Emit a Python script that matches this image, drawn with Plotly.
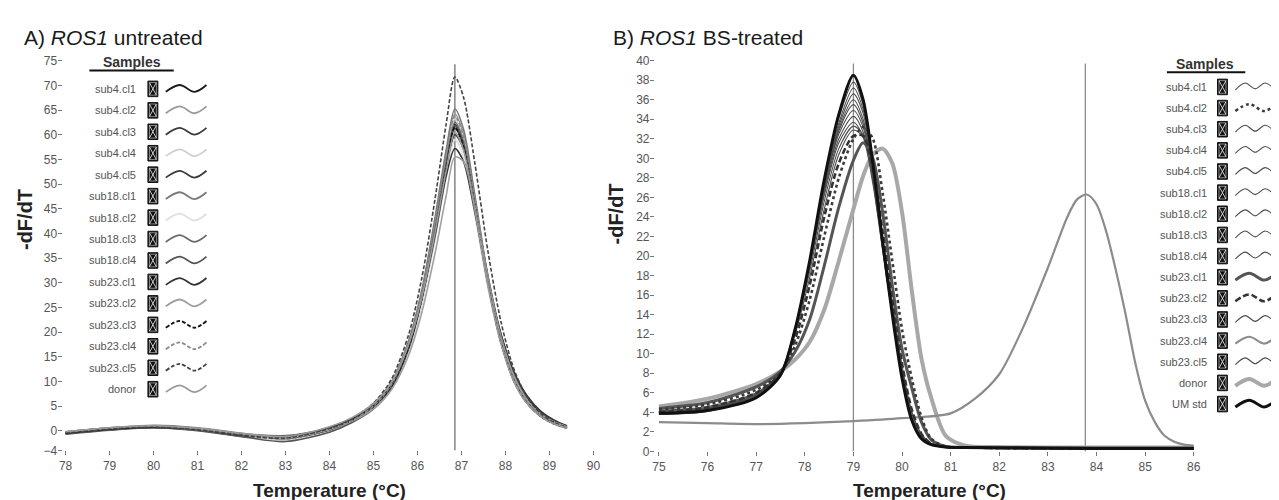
import plotly.graph_objs as go

# ---------------- A) ROS1 untreated ----------------
temp_untreated = [78, 79, 80, 81, 82, 83, 84, 84.5, 85, 85.4, 85.8, 86.1, 86.4, 86.65,
                  86.85, 87.05, 87.3, 87.6, 87.9, 88.2, 88.5, 88.8, 89.1, 89.4]

u_sub4_cl1 = [-0.4, 0.4, 0.9, 0.4, -0.7, -1.2, 0.5, 2.2, 5.0, 9.0, 17.0, 27.0, 41.0, 54.0,
              62.0, 58.0, 46.0, 30.0, 18.0, 10.0, 5.6, 3.0, 1.5, 0.6]
u_sub4_cl2 = [-0.2, 0.6, 1.0, 0.5, -0.6, -1.5, 0.6, 2.3, 5.2, 9.4, 17.8, 28.0, 42.5, 56.0,
              64.2, 60.0, 47.5, 31.0, 18.5, 10.2, 5.7, 3.0, 1.5, 0.6]
u_sub4_cl3 = [-0.6, 0.2, 0.7, 0.2, -0.9, -1.1, 0.3, 1.9, 4.6, 8.6, 16.5, 26.5, 40.0, 53.0,
              61.3, 57.8, 46.5, 31.0, 19.0, 11.0, 6.3, 3.5, 1.8, 0.8]
u_sub4_cl4 = [-0.3, 0.5, 0.8, 0.3, -1.0, -1.8, 0.2, 2.0, 5.0, 9.2, 17.5, 27.5, 41.8, 55.0,
              63.2, 59.0, 46.5, 30.5, 18.2, 10.0, 5.5, 2.9, 1.4, 0.5]
u_sub4_cl5 = [-0.5, 0.3, 0.6, 0.1, -1.1, -1.6, 0.0, 1.7, 4.5, 8.5, 16.3, 26.0, 39.5, 52.0,
              60.0, 57.0, 46.0, 31.5, 19.5, 11.5, 6.6, 3.7, 2.0, 0.9]
u_sub18_cl1 = [-0.3, 0.5, 1.1, 0.6, -0.5, -1.4, 0.7, 2.5, 5.5, 9.8, 18.3, 28.6, 43.2, 56.8,
               65.2, 61.0, 48.0, 31.3, 18.6, 10.2, 5.6, 2.9, 1.4, 0.5]
u_sub18_cl2 = [-0.4, 0.4, 0.8, 0.2, -0.8, -2.0, -0.2, 1.6, 4.3, 8.3, 16.0, 25.6, 38.8, 51.2,
               59.0, 55.5, 44.0, 29.0, 17.5, 9.8, 5.4, 2.9, 1.4, 0.5]
u_sub18_cl3 = [-0.2, 0.6, 0.9, 0.4, -0.6, -1.0, 0.6, 2.3, 5.1, 9.2, 17.3, 27.3, 41.3, 54.5,
               62.5, 58.5, 46.3, 30.3, 18.2, 10.1, 5.6, 3.0, 1.5, 0.6]
u_sub18_cl4 = [-0.7, 0.1, 0.6, 0.0, -1.2, -2.2, -0.3, 1.6, 4.4, 8.5, 16.6, 26.7, 40.6, 53.6,
               61.8, 58.0, 46.0, 30.2, 18.0, 10.0, 5.5, 3.0, 1.5, 0.6]
u_sub23_cl1 = [-0.5, 0.3, 0.7, 0.3, -0.8, -1.3, 0.6, 2.3, 5.2, 9.3, 17.2, 26.8, 39.5, 51.5,
               57.2, 54.5, 44.5, 30.5, 19.5, 11.8, 7.0, 4.0, 2.2, 1.0]
u_sub23_cl2 = [-0.3, 0.5, 0.9, 0.4, -0.7, -1.5, 0.3, 1.9, 4.5, 8.2, 15.3, 24.0, 36.0, 47.5,
               55.5, 54.5, 45.5, 31.0, 19.0, 11.0, 6.2, 3.4, 1.8, 0.8]
u_sub23_cl3 = [-0.4, 0.4, 0.8, 0.3, -0.9, -1.4, 0.4, 2.1, 4.9, 8.9, 16.9, 26.8, 40.6, 53.5,
               61.5, 57.5, 45.5, 29.8, 17.8, 9.9, 5.5, 2.9, 1.4, 0.5]
u_sub23_cl4 = [-0.3, 0.5, 0.9, 0.4, -0.8, -1.7, 0.2, 2.0, 5.0, 9.2, 17.6, 27.8, 42.2, 55.6,
               63.8, 59.6, 47.2, 31.0, 18.5, 10.2, 5.7, 3.0, 1.5, 0.6]
u_sub23_cl5 = [-0.4, 0.4, 0.8, 0.3, -0.9, -1.5, 0.5, 2.4, 5.6, 10.3, 19.5, 31.0, 47.0, 62.0,
               71.7, 67.5, 54.5, 36.5, 22.0, 12.3, 6.7, 3.5, 1.7, 0.7]
u_donor = [-0.2, 0.6, 1.0, 0.5, -0.5, -1.2, 0.8, 2.6, 5.5, 9.6, 17.5, 27.0, 40.2, 52.6,
           60.5, 56.8, 45.0, 29.5, 17.6, 9.8, 5.4, 2.9, 1.4, 0.5]

names_untreated = ['sub4.cl1', 'sub4.cl2', 'sub4.cl3', 'sub4.cl4', 'sub4.cl5',
                   'sub18.cl1', 'sub18.cl2', 'sub18.cl3', 'sub18.cl4',
                   'sub23.cl1', 'sub23.cl2', 'sub23.cl3', 'sub23.cl4', 'sub23.cl5', 'donor']
curves_untreated = [u_sub4_cl1, u_sub4_cl2, u_sub4_cl3, u_sub4_cl4, u_sub4_cl5,
                    u_sub18_cl1, u_sub18_cl2, u_sub18_cl3, u_sub18_cl4,
                    u_sub23_cl1, u_sub23_cl2, u_sub23_cl3, u_sub23_cl4, u_sub23_cl5, u_donor]
tm_untreated = 86.85

# ---------------- B) ROS1 BS-treated ----------------
temp_bs = [75, 76, 77, 77.5, 77.8, 78.1, 78.4, 78.7, 79.0, 79.2, 79.4, 79.6, 79.8, 80.0,
           80.2, 80.4, 80.6, 80.9, 81.3, 82, 84, 86]

b_sub4_cl1 = [4.1, 4.4, 5.8, 8.0, 12.6, 19.4, 27.3, 33.6, 37.2, 35.0, 29.0, 21.5, 14.2, 7.8,
              3.4, 1.4, 0.7, 0.45, 0.4, 0.35, 0.3, 0.3]
b_sub4_cl2 = [4.3, 4.8, 6.3, 8.0, 10.8, 15.5, 22.0, 28.0, 32.0, 33.2, 32.0, 26.5, 19.5, 12.5,
              7.5, 3.5, 1.3, 0.5, 0.4, 0.35, 0.3, 0.3]
b_sub4_cl3 = [3.8, 4.2, 5.6, 7.8, 12.4, 19.2, 27.0, 33.0, 36.0, 34.0, 28.4, 21.0, 14.0, 7.7,
              3.4, 1.4, 0.7, 0.45, 0.4, 0.35, 0.3, 0.3]
b_sub4_cl4 = [4.2, 4.5, 5.9, 8.1, 12.7, 19.3, 26.8, 32.5, 34.9, 33.2, 28.0, 21.0, 14.1, 7.9,
              3.5, 1.5, 0.75, 0.5, 0.4, 0.35, 0.3, 0.3]
b_sub4_cl5 = [3.9, 4.3, 5.7, 7.9, 12.4, 18.9, 26.2, 31.6, 33.7, 32.2, 27.4, 20.6, 13.9, 7.8,
              3.5, 1.5, 0.75, 0.5, 0.4, 0.35, 0.3, 0.3]
b_sub18_cl1 = [4.0, 4.4, 5.8, 8.0, 12.2, 18.4, 25.6, 31.0, 33.3, 32.4, 28.0, 21.5, 14.8, 8.5,
               3.9, 1.7, 0.8, 0.5, 0.4, 0.35, 0.3, 0.3]
b_sub18_cl2 = [3.8, 4.1, 5.5, 7.7, 12.3, 19.0, 26.8, 32.8, 35.5, 33.6, 28.2, 21.0, 14.0, 7.6,
               3.3, 1.4, 0.7, 0.45, 0.4, 0.35, 0.3, 0.3]
b_sub18_cl3 = [4.0, 4.3, 5.7, 7.9, 12.5, 19.3, 27.2, 33.3, 36.6, 34.6, 28.8, 21.3, 14.1, 7.7,
               3.3, 1.4, 0.7, 0.45, 0.4, 0.35, 0.3, 0.3]
b_sub18_cl4 = [4.1, 4.4, 5.8, 8.0, 12.5, 19.0, 26.5, 32.0, 34.3, 32.7, 27.7, 20.8, 14.0, 7.8,
               3.5, 1.5, 0.75, 0.5, 0.4, 0.35, 0.3, 0.3]
b_sub23_cl1 = [4.4, 5.0, 6.6, 8.2, 10.2, 13.5, 19.0, 25.0, 29.8, 31.6, 30.0, 24.5, 17.0, 10.5,
               6.5, 3.0, 1.2, 0.5, 0.4, 0.4, 0.35, 0.35]
b_sub23_cl2 = [4.0, 4.5, 6.0, 8.0, 11.5, 17.0, 24.0, 29.5, 32.3, 32.3, 29.0, 22.5, 15.5, 9.0,
               4.3, 1.8, 0.8, 0.45, 0.4, 0.35, 0.3, 0.3]
b_sub23_cl3 = [4.2, 4.6, 6.0, 8.1, 12.0, 17.8, 24.8, 30.4, 32.9, 32.2, 28.2, 22.0, 15.3, 8.8,
               4.1, 1.8, 0.85, 0.5, 0.4, 0.35, 0.3, 0.3]
b_sub23_cl5 = [3.9, 4.2, 5.6, 7.9, 12.6, 19.5, 27.6, 34.1, 37.8, 35.5, 29.3, 21.5, 14.1, 7.6,
               3.3, 1.3, 0.7, 0.45, 0.4, 0.35, 0.3, 0.3]
b_donor = [4.6, 5.4, 6.9, 8.2, 9.4, 11.2, 14.5, 19.5, 24.8, 28.2, 30.4, 31.0, 29.5, 24.5,
           16.5, 9.5, 5.5, 1.6, 0.6, 0.45, 0.4, 0.4]
b_um_std = [3.9, 4.2, 5.5, 7.8, 12.5, 19.5, 27.8, 34.5, 38.5, 36.0, 29.5, 21.5, 14.0, 7.5,
            3.2, 1.3, 0.7, 0.45, 0.4, 0.35, 0.3, 0.3]

# methylated clone, melts at the higher temperature
temp_bs_high = [75, 76, 77, 78, 79, 80, 81, 81.5, 82, 82.5, 83, 83.4, 83.6, 83.8, 84.0,
                84.2, 84.4, 84.6, 84.8, 85.0, 85.2, 85.4, 85.6, 85.8, 86]
b_sub23_cl4 = [3.0, 2.9, 2.8, 2.9, 3.1, 3.4, 3.9, 5.4, 7.9, 12.8, 18.8, 24.0, 25.8, 26.3, 25.3,
               22.5, 18.5, 14.0, 9.0, 5.2, 3.0, 1.6, 1.0, 0.7, 0.6]

names_bs = ['sub4.cl1', 'sub4.cl2', 'sub4.cl3', 'sub4.cl4', 'sub4.cl5',
            'sub18.cl1', 'sub18.cl2', 'sub18.cl3', 'sub18.cl4',
            'sub23.cl1', 'sub23.cl2', 'sub23.cl3', 'sub23.cl4', 'sub23.cl5', 'donor', 'UM std']
curves_bs = [b_sub4_cl1, b_sub4_cl2, b_sub4_cl3, b_sub4_cl4, b_sub4_cl5,
             b_sub18_cl1, b_sub18_cl2, b_sub18_cl3, b_sub18_cl4,
             b_sub23_cl1, b_sub23_cl2, b_sub23_cl3, b_sub23_cl4, b_sub23_cl5, b_donor, b_um_std]
tm_bs = [79.0, 83.77]

# ---------------- styles (color, width, dash) ----------------
style_untreated = {
    'sub4.cl1': ('#1a1a1a', 1.6, 'solid'), 'sub4.cl2': ('#9a9a9a', 1.6, 'solid'),
    'sub4.cl3': ('#3a3a3a', 1.6, 'solid'), 'sub4.cl4': ('#cfcfcf', 1.6, 'solid'),
    'sub4.cl5': ('#3a3a3a', 1.6, 'solid'), 'sub18.cl1': ('#7a7a7a', 1.6, 'solid'),
    'sub18.cl2': ('#e0e0e0', 1.6, 'solid'), 'sub18.cl3': ('#6a6a6a', 1.6, 'solid'),
    'sub18.cl4': ('#555555', 1.6, 'solid'), 'sub23.cl1': ('#333333', 1.6, 'solid'),
    'sub23.cl2': ('#a0a0a0', 1.6, 'solid'), 'sub23.cl3': ('#111111', 1.6, '4px,2px'),
    'sub23.cl4': ('#8a8a8a', 1.6, '4px,2px'), 'sub23.cl5': ('#444444', 1.6, '4px,2px'),
    'donor': ('#9a9a9a', 1.6, 'solid'),
}
thin = ('#4d4d4d', 1.1, 'solid')
style_bs = {
    'sub4.cl1': thin, 'sub4.cl2': ('#3a3a3a', 2.6, 'dot'), 'sub4.cl3': thin,
    'sub4.cl4': thin, 'sub4.cl5': thin, 'sub18.cl1': thin, 'sub18.cl2': thin,
    'sub18.cl3': thin, 'sub18.cl4': thin, 'sub23.cl1': ('#555555', 3, 'solid'),
    'sub23.cl2': ('#333333', 2.6, '6px,3px'), 'sub23.cl3': thin,
    'sub23.cl4': ('#8c8c8c', 2.2, 'solid'), 'sub23.cl5': thin,
    'donor': ('#a8a8a8', 4, 'solid'), 'UM std': ('#111111', 3, 'solid'),
}
draw_order_bs = ['donor', 'sub23.cl4', 'sub4.cl1', 'sub4.cl3', 'sub4.cl4', 'sub4.cl5',
                 'sub18.cl1', 'sub18.cl2', 'sub18.cl3', 'sub18.cl4', 'sub23.cl3', 'sub23.cl5',
                 'sub23.cl1', 'sub4.cl2', 'sub23.cl2', 'UM std']

W, H = 1279, 500
FONT = 'Liberation Sans, Arial, sans-serif'

fig = go.Figure()

for name, ys in zip(names_untreated, curves_untreated):
    c, w, d = style_untreated[name]
    fig.add_trace(go.Scatter(x=temp_untreated, y=ys, mode='lines', xaxis='x', yaxis='y',
                             line=dict(color=c, width=w, dash=d, shape='spline', smoothing=0.8),
                             hoverinfo='skip', showlegend=False))

curve_of = dict(zip(names_bs, curves_bs))
for name in draw_order_bs:
    c, w, d = style_bs[name]
    xs = temp_bs_high if name == 'sub23.cl4' else temp_bs
    fig.add_trace(go.Scatter(x=xs, y=curve_of[name], mode='lines', xaxis='x2', yaxis='y2',
                             line=dict(color=c, width=w, dash=d, shape='spline', smoothing=0.8),
                             hoverinfo='skip', showlegend=False))

shapes = []
annotations = []

# Tm marker lines
shapes.append(dict(type='line', xref='x', yref='y', x0=tm_untreated, x1=tm_untreated,
                   y0=-4, y1=74.3, line=dict(color='#8c8c8c', width=1.6), layer='below'))
for tm in tm_bs:
    shapes.append(dict(type='line', xref='x2', yref='y2', x0=tm, x1=tm, y0=0, y1=39.7,
                       line=dict(color='#8c8c8c', width=1.3), layer='below'))


# legend drawn on a hidden page-sized axis (pixel units)
def legend(names, styles, row0, step, text_x, box_x, wave_x, head_x, head_y, line_x0, line_x1, thick_shape):
    annotations.append(dict(xref='x3', yref='y3', x=head_x, y=head_y, text='<b>Samples</b>',
                            showarrow=False, font=dict(size=14, color='#333333')))
    shapes.append(dict(type='line', xref='x3', yref='y3', x0=line_x0, x1=line_x1,
                       y0=head_y + 9, y1=head_y + 9, line=dict(color='#111111', width=2)))
    for i, name in enumerate(names):
        yc = row0 + i * step
        annotations.append(dict(xref='x3', yref='y3', x=text_x, y=yc, text=name, xanchor='right',
                                showarrow=False, font=dict(size=11, color='#555555')))
        shapes.append(dict(type='rect', xref='x3', yref='y3', x0=box_x - 5, x1=box_x + 5,
                           y0=yc - 8, y1=yc + 8, fillcolor='#111111', line=dict(color='#111111', width=1)))
        shapes.append(dict(type='rect', xref='x3', yref='y3', x0=box_x - 3.5, x1=box_x + 3.5,
                           y0=yc - 6.5, y1=yc + 6.5, line=dict(color='#bbbbbb', width=0.7)))
        shapes.append(dict(type='line', xref='x3', yref='y3', x0=box_x - 3.5, x1=box_x + 3.5,
                           y0=yc - 6.5, y1=yc + 6.5, line=dict(color='#dddddd', width=0.9)))
        shapes.append(dict(type='line', xref='x3', yref='y3', x0=box_x - 3.5, x1=box_x + 3.5,
                           y0=yc + 6.5, y1=yc - 6.5, line=dict(color='#dddddd', width=0.9)))
        c, w, d = styles[name]
        if thick_shape or w > 1.5:
            wx = [wave_x, wave_x + 14, wave_x + 29, wave_x + 41]
            wy = [yc + 3, yc - 4, yc + 3, yc - 4]
        else:
            wx = [wave_x, wave_x + 10, wave_x + 20, wave_x + 30, wave_x + 40]
            wy = [yc + 3, yc - 4, yc + 2, yc - 4, yc + 3]
        fig.add_trace(go.Scatter(x=wx, y=wy, mode='lines', xaxis='x3', yaxis='y3',
                                 line=dict(color=c, width=max(w, 1.8) if thick_shape else w,
                                           dash=d, shape='spline'),
                                 hoverinfo='skip', showlegend=False))


legend(names_untreated, style_untreated, 76, 22.07, 127, 142, 155, 121, 48, 78, 163, True)
legend(names_bs, style_bs, 74, 21.75, 1206, 1220, 1233, 1202, 50, 1164, 1243, False)

# titles
annotations += [
    dict(xref='x3', yref='y3', x=10, y=23, xanchor='left', showarrow=False,
         text='A) <i>ROS1</i> untreated', font=dict(size=21, color='#1a1a1a')),
    dict(xref='x3', yref='y3', x=604, y=23, xanchor='left', showarrow=False,
         text='B) <i>ROS1</i> BS-treated', font=dict(size=21, color='#1a1a1a')),
    dict(xref='x3', yref='y3', x=320, y=489, showarrow=False,
         text='<b>Temperature (°C)</b>', font=dict(size=19, color='#222222')),
    dict(xref='x3', yref='y3', x=925, y=489, showarrow=False,
         text='<b>Temperature (°C)</b>', font=dict(size=19, color='#222222')),
    dict(xref='x3', yref='y3', x=13, y=210, showarrow=False, textangle=-90,
         text='<b>-dF/dT</b>', font=dict(size=20, color='#222222')),
    dict(xref='x3', yref='y3', x=609, y=205, showarrow=False, textangle=-90,
         text='<b>-dF/dT</b>', font=dict(size=20, color='#222222')),
]

tick_style = dict(ticks='outside', ticklen=4, tickwidth=1, tickcolor='#777777',
                  showgrid=False, zeroline=False, showline=False,
                  tickfont=dict(size=12, color='#555555'), fixedrange=True)

layout = go.Layout(
    width=W, height=H, margin=dict(l=0, r=0, t=0, b=0),
    paper_bgcolor='white', plot_bgcolor='rgba(0,0,0,0)',
    font=dict(family=FONT), showlegend=False, hovermode=False,
    xaxis=dict(domain=[51 / W, 587 / W], range=[77.932, 90.023], anchor='y',
               tickvals=list(range(78, 91)), **tick_style),
    yaxis=dict(domain=[1 - 448 / H, 1 - 47 / H], range=[-4, 75], anchor='x',
               tickvals=[-4] + list(range(0, 76, 5)), ticklabelstandoff=-2, **tick_style),
    xaxis2=dict(domain=[648 / W, 1194 / W], range=[74.918, 86.06], anchor='y2',
                tickvals=list(range(75, 87)), **tick_style),
    yaxis2=dict(domain=[1 - 449 / H, 1 - 47 / H], range=[0, 40], anchor='x2',
                tickvals=list(range(0, 41, 2)), ticklabelstandoff=-2, **tick_style),
    xaxis3=dict(domain=[0, 1], range=[0, W], anchor='y3', visible=False, fixedrange=True),
    yaxis3=dict(domain=[0, 1], range=[H, 0], anchor='x3', visible=False, fixedrange=True),
    shapes=shapes, annotations=annotations,
)
fig.update_layout(layout)
fig.write_html("out.html")
